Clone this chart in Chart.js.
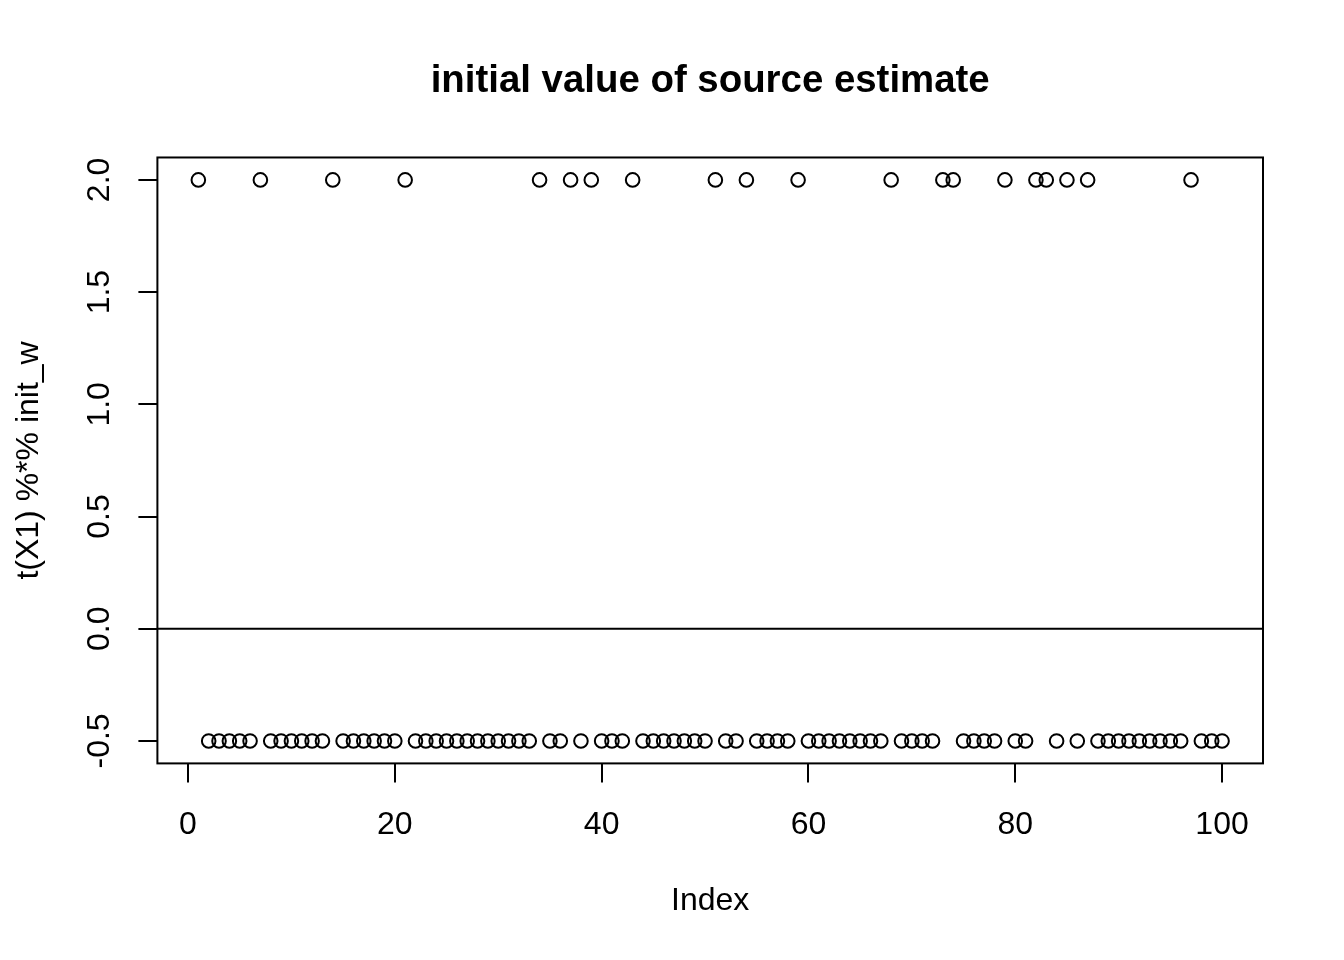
<!DOCTYPE html>
<html>
<head>
<meta charset="utf-8">
<script src="https://cdn.jsdelivr.net/npm/chart.js@4/dist/chart.umd.min.js"></script>
<style>
  html, body { margin: 0; padding: 0; background: #fff; }
  #wrap { width: 1344px; height: 960px; }
</style>
</head>
<body>
<div id="wrap"><canvas id="plot"></canvas></div>
<script>
// values of t(X1) %*% init_w, in index order 1..100
const sourceValues = [
  2, -0.5, -0.5, -0.5, -0.5, -0.5, 2, -0.5, -0.5, -0.5,
  -0.5, -0.5, -0.5, 2, -0.5, -0.5, -0.5, -0.5, -0.5, -0.5,
  2, -0.5, -0.5, -0.5, -0.5, -0.5, -0.5, -0.5, -0.5, -0.5,
  -0.5, -0.5, -0.5, 2, -0.5, -0.5, 2, -0.5, 2, -0.5,
  -0.5, -0.5, 2, -0.5, -0.5, -0.5, -0.5, -0.5, -0.5, -0.5,
  2, -0.5, -0.5, 2, -0.5, -0.5, -0.5, -0.5, 2, -0.5,
  -0.5, -0.5, -0.5, -0.5, -0.5, -0.5, -0.5, 2, -0.5, -0.5,
  -0.5, -0.5, 2, 2, -0.5, -0.5, -0.5, -0.5, 2, -0.5,
  -0.5, 2, 2, -0.5, 2, -0.5, 2, -0.5, -0.5, -0.5,
  -0.5, -0.5, -0.5, -0.5, -0.5, -0.5, 2, -0.5, -0.5, -0.5
];
const xTicks = [0, 20, 40, 60, 80, 100];
const yTicks = [-0.5, 0, 0.5, 1, 1.5, 2];
const yTickLabels = ['-0.5', '0.0', '0.5', '1.0', '1.5', '2.0'];
const refLineY = [0, 0];

const FONT = "'Liberation Sans', Arial, Helvetica, sans-serif";
const X_MIN = -2.96, X_MAX = 103.96;
const Y_MIN = -0.6, Y_MAX = 2.1;

const points = sourceValues.map((v, i) => ({ x: i + 1, y: v }));
const refLine = [{ x: X_MIN, y: refLineY[0] }, { x: X_MAX, y: refLineY[1] }];

// box around the plot region + rotated y tick labels (R style)
const rBox = {
  id: 'rBox',
  afterDraw(chart) {
    const ctx = chart.ctx;
    const a = chart.chartArea;
    ctx.save();
    ctx.strokeStyle = '#000';
    ctx.lineWidth = 2;
    ctx.strokeRect(a.left, a.top, a.right - a.left, a.bottom - a.top);

    const ys = chart.scales.y;
    ctx.fillStyle = '#000';
    ctx.font = '32px ' + FONT;
    ctx.textAlign = 'center';
    ctx.textBaseline = 'middle';
    ys.ticks.forEach(t => {
      const py = ys.getPixelForValue(t.value);
      ctx.save();
      ctx.translate(100, py);
      ctx.rotate(-Math.PI / 2);
      ctx.fillText(t.label, 0, 0);
      ctx.restore();
    });
    ctx.restore();
  }
};

const ctx = document.getElementById('plot').getContext('2d');
new Chart(ctx, {
  type: 'scatter',
  data: {
    datasets: [
      {
        label: 'source',
        data: points,
        pointStyle: 'circle',
        pointRadius: 6.8,
        pointHoverRadius: 6.8,
        pointBorderWidth: 2,
        pointBackgroundColor: 'rgba(0,0,0,0)',
        pointBorderColor: '#000',
        showLine: false
      },
      {
        type: 'line',
        label: 'h0',
        data: refLine,
        borderColor: '#000',
        borderWidth: 2,
        pointRadius: 0,
        fill: false
      }
    ]
  },
  options: {
    responsive: true,
    maintainAspectRatio: false,
    animation: false,
    events: [],
    layout: { padding: { left: 0, right: 81, top: 0, bottom: 0 } },
    plugins: {
      legend: { display: false },
      tooltip: { enabled: false },
      title: {
        display: true,
        fullSize: false,
        text: 'initial value of source estimate',
        color: '#000',
        font: { family: FONT, size: 38.4, weight: 'bold', lineHeight: 1.2 },
        padding: { top: 58.5, bottom: 52.9 }
      }
    },
    scales: {
      x: {
        type: 'linear',
        min: X_MIN,
        max: X_MAX,
        afterBuildTicks: s => { s.ticks = xTicks.map(v => ({ value: v })); },
        afterFit: s => { s.height = 196.6; },
        border: { display: false },
        grid: {
          display: true,
          drawOnChartArea: false,
          drawTicks: true,
          tickLength: 19,
          color: '#000',
          lineWidth: 2
        },
        ticks: {
          color: '#000',
          font: { family: FONT, size: 32 },
          padding: 24,
          maxRotation: 0,
          autoSkip: false
        },
        title: {
          display: true,
          text: 'Index',
          color: '#000',
          font: { family: FONT, size: 32, lineHeight: 1.2 },
          padding: { top: 0, bottom: 39.3 }
        }
      },
      y: {
        type: 'linear',
        min: Y_MIN,
        max: Y_MAX,
        afterBuildTicks: s => { s.ticks = yTicks.map(v => ({ value: v })); },
        afterFit: s => { s.width = 157.4; },
        border: { display: false },
        grid: {
          display: true,
          drawOnChartArea: false,
          drawTicks: true,
          tickLength: 19,
          color: '#000',
          lineWidth: 2
        },
        ticks: {
          display: false,
          callback: (v, i) => yTickLabels[yTicks.indexOf(v)]
        },
        title: {
          display: true,
          text: 't(X1) %*% init_w',
          color: '#000',
          font: { family: FONT, size: 32, lineHeight: 1.2 },
          padding: { top: 10.3, bottom: 0 }
        }
      }
    }
  },
  plugins: [rBox]
});
</script>
</body>
</html>
